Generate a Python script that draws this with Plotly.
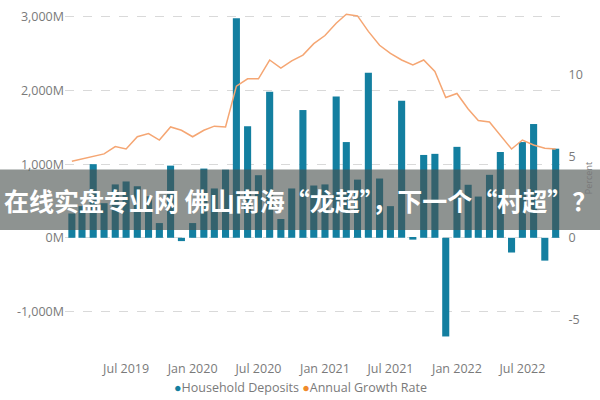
import plotly.graph_objects as go

months = [
    "2019-02-01", "2019-03-01", "2019-04-01", "2019-05-01", "2019-06-01", "2019-07-01",
    "2019-08-01", "2019-09-01", "2019-10-01", "2019-11-01", "2019-12-01", "2020-01-01",
    "2020-02-01", "2020-03-01", "2020-04-01", "2020-05-01", "2020-06-01", "2020-07-01",
    "2020-08-01", "2020-09-01", "2020-10-01", "2020-11-01", "2020-12-01", "2021-01-01",
    "2021-02-01", "2021-03-01", "2021-04-01", "2021-05-01", "2021-06-01", "2021-07-01",
    "2021-08-01", "2021-09-01", "2021-10-01", "2021-11-01", "2021-12-01", "2022-01-01",
    "2022-02-01", "2022-03-01", "2022-04-01", "2022-05-01", "2022-06-01", "2022-07-01",
    "2022-08-01", "2022-09-01", "2022-10-01",
]

household_deposits = [
    330, 430, 1000, 470, 725, 765, 700, 565, 200, 980, -45, 200,
    940, 670, 925, 2980, 1515, 850, 1985, 255, 670, 1735, 710, 725,
    1920, 1300, 790, 2240, 805, 430, 1860, -25, 1125, 1140, -1340, 1235,
    720, 560, 855, 1165, -200, 1300, 1545, -310, 1210,
]

annual_growth_rate = [
    4.7, 4.85, 5.0, 5.15, 5.6, 5.45, 6.2, 6.4, 6.0, 6.8, 6.6, 6.2,
    6.6, 6.85, 6.8, 9.3, 9.75, 9.75, 10.9, 10.4, 10.85, 11.2, 11.9, 12.4,
    13.15, 13.7, 13.6, 12.65, 11.8, 11.3, 10.9, 10.6, 10.9, 10.2, 8.6, 8.85,
    7.9, 7.2, 7.1, 6.3, 5.45, 6.0, 5.7, 5.5, 5.45,
]

x_tick_vals = ["2019-07-01", "2020-01-01", "2020-07-01", "2021-01-01",
               "2021-07-01", "2022-01-01", "2022-07-01"]
x_tick_text = ["Jul 2019", "Jan 2020", "Jul 2020", "Jan 2021",
               "Jul 2021", "Jan 2022", "Jul 2022"]
left_tick_vals = [-1000, 0, 1000, 2000, 3000]
left_tick_text = ["-1,000M", "0M", "1,000M", "2,000M", "3,000M"]
right_tick_vals = [-5, 0, 5, 10]
right_tick_text = ["-5", "0", "5", "10"]
series_names = ["Household Deposits", "Annual Growth Rate"]

banner_text = "在线实盘专业网 佛山南海“龙超”，下一个“村超”？"

BAR_COLOR = "#137FA0"
LINE_COLOR = "#F5A673"
DOT_ORANGE = "#F08A2C"
TEXT_COLOR = "#7a7a7a"
FONT = "Open Sans"
FS = 12.5

fig = go.Figure()
fig.add_trace(go.Bar(
    x=months, y=household_deposits, name=series_names[0],
    marker=dict(color=BAR_COLOR, line=dict(width=0)),
    showlegend=False, yaxis="y",
))
fig.add_trace(go.Scatter(
    x=months, y=annual_growth_rate, name=series_names[1],
    mode="lines", line=dict(color=LINE_COLOR, width=1.5),
    showlegend=False, yaxis="y2",
))

W, H = 600, 400
ml, mr, mt, mb = 65, 40, 8, 55
pw, ph = W - ml - mr, H - mt - mb

legend_html = (f"<span style='color:{BAR_COLOR}'>●</span>{series_names[0]} "
               f"<span style='color:{DOT_ORANGE}'>●</span>{series_names[1]}")

fig.update_layout(
    width=W, height=H,
    margin=dict(l=ml, r=mr, t=mt, b=mb),
    paper_bgcolor="white", plot_bgcolor="white",
    font=dict(family=FONT, size=FS, color=TEXT_COLOR),
    bargap=0.3,
    showlegend=False,
    xaxis=dict(type="date", range=["2019-01-13", "2022-10-13"],
               tickvals=x_tick_vals, ticktext=x_tick_text,
               showgrid=False, zeroline=False, showline=False,
               ticks="outside", ticklen=12, tickcolor="rgba(0,0,0,0)",
               tickfont=dict(size=FS, color=TEXT_COLOR)),
    yaxis=dict(range=[-1456, 3080], tickvals=left_tick_vals, ticktext=left_tick_text,
               showgrid=True, gridcolor="#d9d9d9", griddash="dash", gridwidth=1,
               zeroline=False, showline=False, ticks="",
               tickfont=dict(size=FS, color=TEXT_COLOR)),
    yaxis2=dict(range=[-6.55, 13.9], tickvals=right_tick_vals, ticktext=right_tick_text,
                overlaying="y", side="right", showgrid=False, zeroline=False,
                showline=False, tickfont=dict(size=FS, color=TEXT_COLOR),
                ticks="outside", ticklen=5, tickcolor="rgba(0,0,0,0)",
                title=dict(text="Percent", font=dict(size=9, color=TEXT_COLOR), standoff=3)),
    shapes=[dict(type="rect", xref="paper", yref="paper",
                 x0=-ml / pw, x1=1 + mr / pw,
                 y0=(H - mb - 229) / ph, y1=(H - mb - 168) / ph,
                 fillcolor="rgba(72,80,78,0.62)", line=dict(width=0), layer="above")],
    annotations=[
        dict(text="<b>" + banner_text + "</b>", xref="paper", yref="paper",
             x=0.5 + (mr - ml) / 2 / pw, y=(H - mb - 199) / ph,
             xanchor="center", yanchor="middle", showarrow=False,
             font=dict(family="Noto Sans CJK SC", size=25, color="white")),
        dict(text=legend_html, xref="paper", yref="paper",
             x=0.5 + (mr - ml) / 2 / pw, y=(H - mb - 388) / ph,
             xanchor="center", yanchor="middle", showarrow=False,
             font=dict(family=FONT, size=12.5, color=TEXT_COLOR)),
    ],
)

fig.write_html("out.html")
